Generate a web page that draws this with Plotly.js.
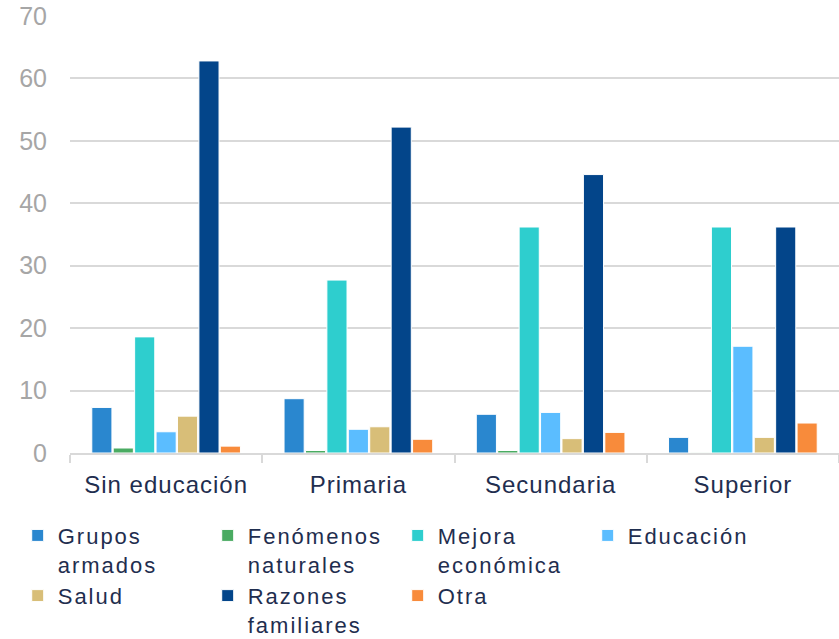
<!DOCTYPE html>
<html>
<head>
<meta charset="utf-8">
<script src="https://cdn.plot.ly/plotly-3.0.1.min.js"></script>
<style>
html,body{margin:0;padding:0;background:#fff;}
#chart{width:839px;height:639px;}
#chart .legendtext{letter-spacing:2px;}
#chart .xtick text{letter-spacing:1px;}
</style>
</head>
<body>
<div id="chart"></div>
<script>
var categories = ["Sin educación", "Primaria", "Secundaria", "Superior"];
var seriesNames = ["Grupos<br>armados", "Fenómenos<br>naturales", "Mejora<br>económica", "Educación", "Salud", "Razones<br>familiares", "Otra"];
var grupos = [7.3, 8.7, 6.2, 2.5];
var fenomenos = [0.8, 0.4, 0.4, 0.1];
var mejora = [18.6, 27.7, 36.2, 36.2];
var educacion = [3.4, 3.8, 6.5, 17.1];
var salud = [5.9, 4.2, 2.3, 2.5];
var razones = [62.8, 52.2, 44.6, 36.2];
var otra = [1.1, 2.2, 3.3, 4.8];
var colors = ["#2A87CF", "#4AAB62", "#2ECECE", "#5BBDFF", "#D8BE78", "#03458A", "#F88B3B"];

var allValues = [grupos, fenomenos, mejora, educacion, salud, razones, otra];
var traces = allValues.map(function (vals, i) {
  return {
    type: "bar",
    name: seriesNames[i],
    x: categories,
    y: vals,
    marker: { color: colors[i], line: { color: "#ffffff", width: 1 } },
    hoverinfo: "x+y"
  };
});

var layout = {
  width: 839,
  height: 639,
  margin: { l: 70, r: 0, t: 16, b: 186, autoexpand: false },
  paper_bgcolor: "#ffffff",
  plot_bgcolor: "#ffffff",
  barmode: "group",
  bargap: 0.22,
  bargroupgap: 0.06,
  font: { family: "Liberation Sans, Arial, sans-serif", color: "#1F2E4F" },
  xaxis: {
    type: "category",
    showline: true,
    linecolor: "#D9D9D9",
    linewidth: 2,
    ticks: "outside",
    tickson: "boundaries",
    ticklen: 8,
    tickwidth: 2,
    tickcolor: "#D9D9D9",
    ticklabelstandoff: 9,
    tickfont: { size: 24, color: "#1F2E4F" },
    showgrid: false
  },
  yaxis: {
    range: [0, 70],
    dtick: 10,
    showgrid: true,
    gridcolor: "#D9D9D9",
    gridwidth: 2,
    zeroline: false,
    showline: false,
    ticks: "",
    ticklabelstandoff: 22,
    tickfont: { size: 25, color: "#A6A6A6" }
  },
  legend: {
    orientation: "h",
    x: -0.068,
    xanchor: "left",
    y: -0.141,
    yanchor: "top",
    entrywidth: 145,
    valign: "top",
    traceorder: "normal",
    font: { size: 22, color: "#1F2E4F" },
    bgcolor: "rgba(0,0,0,0)"
  },
  showlegend: true
};

Plotly.newPlot("chart", traces, layout, { displayModeBar: false, staticPlot: true });
</script>
</body>
</html>
